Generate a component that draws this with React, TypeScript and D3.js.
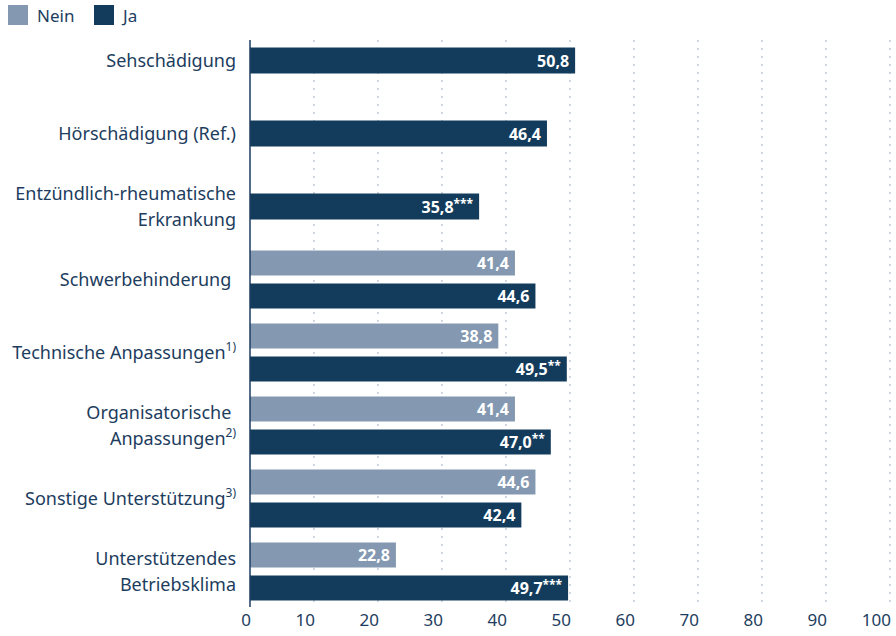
import React from "react";
import * as d3 from "d3";

const categories = [
  "Sehschädigung",
  "Hörschädigung (Ref.)",
  "Entzündlich-rheumatische Erkrankung",
  "Schwerbehinderung",
  "Technische Anpassungen",
  "Organisatorische Anpassungen",
  "Sonstige Unterstützung",
  "Unterstützendes Betriebsklima",
];
// label lines: [text, superscript]
const labelLines: [string, string][][] = [
  [["Sehschädigung", ""]],
  [["Hörschädigung (Ref.)", ""]],
  [["Entzündlich-rheumatische", ""], ["Erkrankung", ""]],
  [["Schwerbehinderung\u00a0", ""]],
  [["Technische Anpassungen", "1)"]],
  [["Organisatorische\u00a0", ""], ["Anpassungen", "2)"]],
  [["Sonstige Unterstützung", "3)"]],
  [["Unterstützendes", ""], ["Betriebsklima", ""]],
];
const neinValues: (number | null)[] = [null, null, null, 41.4, 38.8, 41.4, 44.6, 22.8];
const jaValues: number[] = [50.8, 46.4, 35.8, 44.6, 49.5, 47.0, 42.4, 49.7];
const jaSig = ["", "", "***", "", "**", "**", "", "***"];
const neinSig = ["", "", "", "", "", "", "", ""];
const ticks = [0, 10, 20, 30, 40, 50, 60, 70, 80, 90, 100];
const seriesNames = ["Nein", "Ja"];

const W = 896, H = 636;
const FONT = "'Noto Sans', sans-serif";
const TEXT = "#1d3d5e";
const JA = "#133c5c";
const NEIN = "#8499b1";

const fmt = (v: number) => v.toFixed(1).replace(".", ",");

export default function App() {
  const x = d3.scaleLinear().domain([0, 100]).range([250, 890]);
  const y = d3.scaleBand<string>().domain(categories).range([24, 608]);
  const top = 40, bottom = 607;
  const LFS = 18;

  const valueText = (v: number, sig: string, xx: number, yy: number) => (
    <text x={xx} y={yy} textAnchor="end" fontSize={16} fontWeight="bold" fill="#fff">
      {fmt(v)}
      {sig && <tspan fontSize={12} dy={-5}>{sig}</tspan>}
    </text>
  );

  return (
    <svg width={W} height={H} style={{ position: "absolute", left: 0, top: 0, background: "#fff" }} fontFamily={FONT}>
      {/* legend */}
      <rect x={8} y={5} width={20} height={20} fill={NEIN} />
      <text x={37} y={21.5} fontSize={17} fill={TEXT}>{seriesNames[0]}</text>
      <rect x={94} y={5} width={20} height={20} fill={JA} />
      <text x={123} y={21.5} fontSize={17} fill={TEXT}>{seriesNames[1]}</text>

      {/* grid */}
      {ticks.slice(1).map((t) => (
        <line key={t} x1={x(t)} x2={x(t)} y1={top} y2={bottom} stroke="#9fb0c4" strokeWidth={1} strokeDasharray="2,6" />
      ))}

      {/* bars */}
      {categories.map((c, i) => {
        const cy = (y(c) as number) + y.bandwidth() / 2;
        const nv = neinValues[i];
        const jv = jaValues[i];
        const els: any[] = [];
        if (nv != null) {
          els.push(
            <g key="n">
              <rect x={x(0)} y={cy - 29} width={x(nv) - x(0)} height={25} fill={NEIN} />
              {valueText(nv, neinSig[i], x(nv) - 6, cy - 10.5)}
            </g>
          );
          els.push(
            <g key="j">
              <rect x={x(0)} y={cy + 4} width={x(jv) - x(0)} height={25} fill={JA} />
              {valueText(jv, jaSig[i], x(jv) - 6, cy + 22.5)}
            </g>
          );
        } else {
          els.push(
            <g key="j">
              <rect x={x(0)} y={cy - 13} width={x(jv) - x(0)} height={26} fill={JA} />
              {valueText(jv, jaSig[i], x(jv) - 6, cy + 6)}
            </g>
          );
        }
        const lines = labelLines[i];
        const lh = 26;
        const y0 = cy - ((lines.length - 1) * lh) / 2 + 6.5;
        els.push(
          <g key="l">
            {lines.map(([t, sup], k) => (
              <text key={k} x={236} y={y0 + k * lh} textAnchor="end" fontSize={LFS} fill={TEXT}>
                {t}
                {sup && <tspan fontSize={12} dy={-8}>{sup}</tspan>}
              </text>
            ))}
          </g>
        );
        return <g key={c}>{els}</g>;
      })}

      {/* axis */}
      <line x1={x(0)} x2={x(0)} y1={top} y2={bottom} stroke={TEXT} strokeWidth={1.5} />
      {ticks.map((t) => (
        <text key={t} x={x(t) + 1} y={626} textAnchor="end" fontSize={17} fill={TEXT}>{t}</text>
      ))}
    </svg>
  );
}
